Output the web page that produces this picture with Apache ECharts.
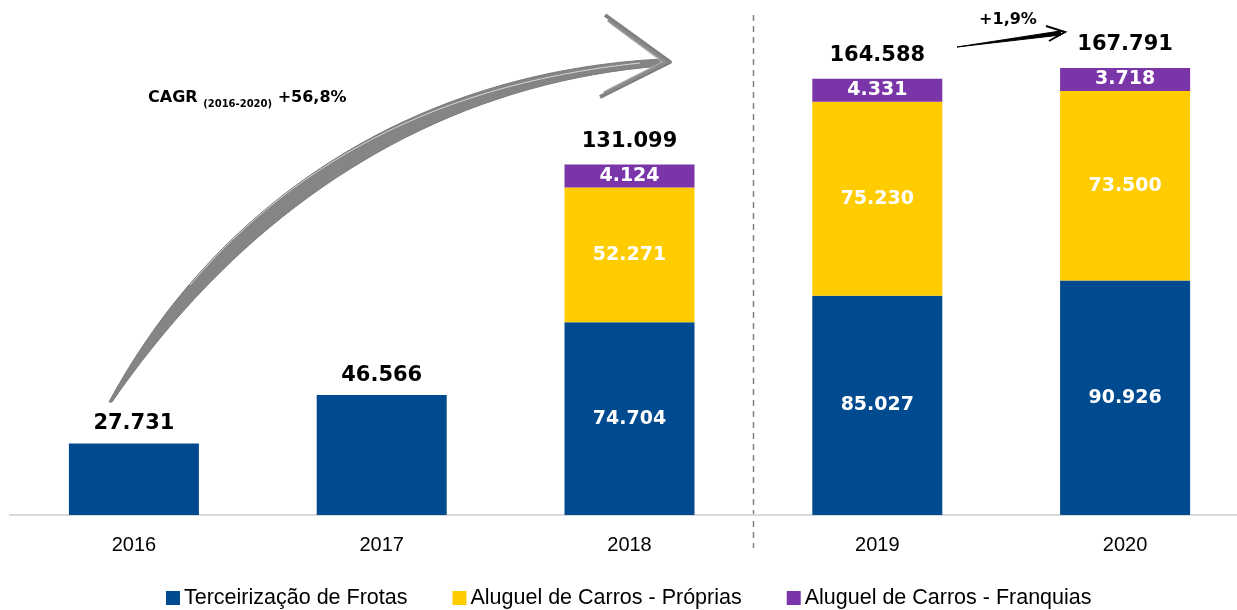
<!DOCTYPE html>
<html>
<head>
<meta charset="utf-8">
<script src="https://cdn.jsdelivr.net/npm/echarts@6/dist/echarts.min.js"></script>
<style>
  html, body { margin: 0; padding: 0; background: #fff; }
  #main { width: 1237px; height: 610px; }
</style>
</head>
<body>
<div id="main"></div>
<script>
// NOTE - Data

const years = ['2016', '2017', '2018', '2019', '2020'];
const frotas = [27731, 46566, 74704, 85027, 90926];
const proprias = [null, null, 52271, 75230, 73500];
const franquias = [null, null, 4124, 4331, 3718];
const totais = [27731, 46566, 131099, 164588, 167791];

const seriesNames = ['Terceirização de Frotas', 'Aluguel de Carros - Próprias', 'Aluguel de Carros - Franquias'];
const colors = ['#004B8F', '#FFCC00', '#7A36A9'];

// NOTE - Helpers

function fmt(v) {
  return v.toLocaleString('de-DE');
}

// sample a cubic bezier into points (for the hand-drawn arrow)
function bez(p0, p1, p2, p3, n) {
  var pts = [];
  for (var i = 0; i <= n; i++) {
    var t = i / n, u = 1 - t;
    pts.push([
      u * u * u * p0[0] + 3 * u * u * t * p1[0] + 3 * u * t * t * p2[0] + t * t * t * p3[0],
      u * u * u * p0[1] + 3 * u * u * t * p1[1] + 3 * u * t * t * p2[1] + t * t * t * p3[1]
    ]);
  }
  return pts;
}

const valueFont = { fontFamily: 'DejaVu Sans', fontWeight: 'bold', fontSize: 19 };
const totalFont = { fontFamily: 'DejaVu Sans', fontWeight: 'bold', fontSize: 21 };

// NOTE - eCharts Init

var myChart = echarts.init(document.getElementById('main'));

var option = {
  animation: false,
  color: colors,
  grid: { left: 10, width: 1239, top: 25, bottom: 95, outerBoundsMode: 'none' },
  legend: {
    top: 582,
    left: 161,
    itemWidth: 14,
    itemHeight: 14,
    itemGap: 45,
    icon: 'rect',
    textStyle: { fontFamily: 'Liberation Sans', fontSize: 21.5, color: '#000', padding: [0, 0, 0, -1] },
    data: seriesNames
  },
  xAxis: {
    type: 'category',
    data: years,
    axisLine: { lineStyle: { color: '#D9D9D9', width: 2 } },
    axisTick: { show: false },
    axisLabel: { fontFamily: 'Liberation Sans', fontSize: 20, color: '#000', margin: 20 }
  },
  yAxis: {
    type: 'value',
    min: 0,
    max: 190000,
    show: false,
    splitLine: { show: false }
  },
  series: [
    {
      name: seriesNames[0],
      type: 'bar',
      stack: 'total',
      barWidth: 130,
      data: frotas.map(function (v, i) {
        if (proprias[i] == null) {
          return {
            value: v,
            label: Object.assign({ position: 'top', distance: 9, color: '#000' }, totalFont)
          };
        }
        return v;
      }),
      label: Object.assign({
        show: true,
        position: 'inside',
        color: '#fff',
        formatter: function (p) { return fmt(p.value); }
      }, valueFont)
    },
    {
      name: seriesNames[1],
      type: 'bar',
      stack: 'total',
      barWidth: 130,
      data: proprias,
      label: Object.assign({
        show: true,
        position: 'inside',
        color: '#fff',
        formatter: function (p) { return p.value == null ? '' : fmt(p.value); }
      }, valueFont)
    },
    {
      name: seriesNames[2],
      type: 'bar',
      stack: 'total',
      barWidth: 130,
      barMinHeight: 23,
      data: franquias,
      label: {
        show: true,
        position: 'top',
        distance: -23,
        formatter: function (p) {
          if (p.value == null) return '';
          return '{t|' + fmt(totais[p.dataIndex]) + '}\n{v|' + fmt(p.value) + '}';
        },
        rich: {
          t: Object.assign({ color: '#000', lineHeight: 46, align: 'center' }, totalFont),
          v: Object.assign({ color: '#fff', lineHeight: 23, align: 'center' }, valueFont)
        }
      }
    }
  ]
};

myChart.setOption(option);

// NOTE - Annotations (divider, arrows, CAGR text)

var p2 = myChart.convertToPixel({ xAxisIndex: 0 }, years[2]);
var p3 = myChart.convertToPixel({ xAxisIndex: 0 }, years[3]);
var divX = Math.round((p2 + p3) / 2) + 0.5;

var upper = bez([109, 402], [215, 205], [410, 72], [662, 59], 40);
var lower = bez([662, 66], [430, 84], [243, 212], [112, 402], 40);
var swoosh = upper.concat(lower);
var streak1 = bez([190, 285], [290, 168], [430, 85], [640, 63], 30);

myChart.setOption({
  graphic: [
    {
      type: 'line',
      shape: { x1: divX, y1: 15, x2: divX, y2: 548 },
      style: { stroke: '#808080', lineWidth: 1.5, lineDash: [6, 5] }
    },
    {
      type: 'polygon',
      shape: { points: swoosh },
      style: { fill: '#858585', stroke: '#7a7a7a', lineWidth: 1 }
    },
    {
      type: 'polyline',
      shape: { points: streak1 },
      style: { stroke: '#d6d6d6', lineWidth: 1, fill: null }
    },
    {
      type: 'polyline',
      shape: { points: [[605, 15], [670, 62], [600, 97]] },
      style: { stroke: '#808080', lineWidth: 4, lineJoin: 'round', fill: null }
    },
    {
      type: 'polyline',
      shape: { points: [[608, 20], [666, 62], [604, 93]] },
      style: { stroke: '#8c8c8c', lineWidth: 3, fill: null }
    },
    {
      type: 'polyline',
      shape: { points: [[611, 24], [662, 62], [607, 90]] },
      style: { stroke: '#b0b0b0', lineWidth: 1, fill: null }
    },
    {
      type: 'text',
      left: 148,
      top: 87,
      style: {
        text: '{a|CAGR }{s|(2016-2020)}{a| +56,8%}',
        rich: {
          a: { fontFamily: 'DejaVu Sans', fontWeight: 'bold', fontSize: 16, fill: '#000', lineHeight: 22 },
          s: { fontFamily: 'DejaVu Sans', fontWeight: 'bold', fontSize: 10, fill: '#000', lineHeight: 22, padding: [12, 0, 0, 0] }
        }
      }
    },
    {
      type: 'text',
      x: 1008,
      y: 20,
      style: {
        text: '+1,9%',
        fontFamily: 'DejaVu Sans',
        fontWeight: 'bold',
        fontSize: 16,
        fill: '#000',
        align: 'center',
        verticalAlign: 'middle'
      }
    },
    {
      type: 'polygon',
      shape: { points: [[957, 47], [1060, 31], [1061, 35]] },
      style: { fill: '#000', stroke: '#000', lineWidth: 1 }
    },
    {
      type: 'polyline',
      shape: { points: [[1046, 26], [1065, 32], [1049, 41]] },
      style: { stroke: '#000', lineWidth: 2, fill: null }
    }
  ]
});
</script>
</body>
</html>
